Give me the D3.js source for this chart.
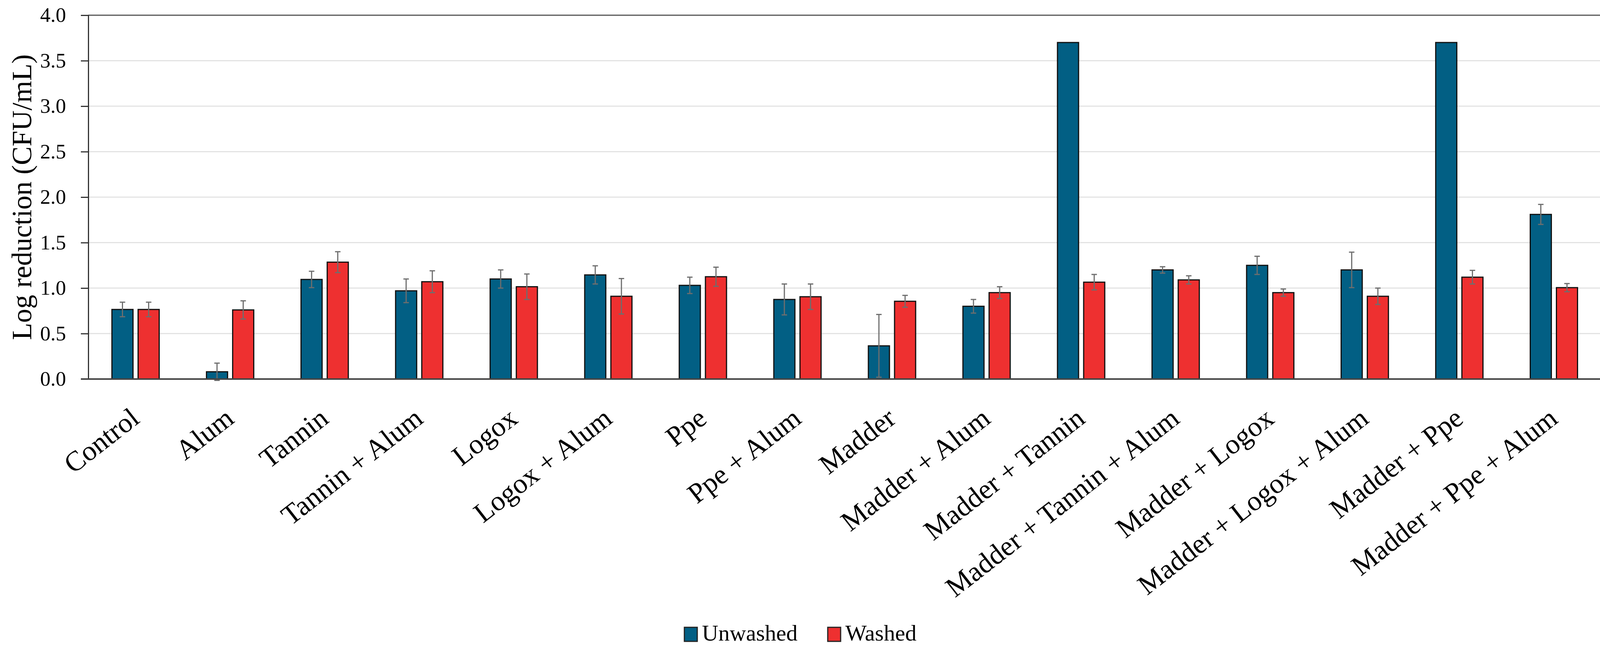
<!DOCTYPE html>
<html>
<head>
<meta charset="utf-8">
<script src="https://cdnjs.cloudflare.com/ajax/libs/d3/7.8.5/d3.min.js"></script>
<style>
  body { margin: 0; background: #fff; }
  text { font-family: "Liberation Serif", "Times New Roman", serif; fill: #000; }
</style>
</head>
<body>
<div id="box"></div>
<script>
var w = 4120,
    h = 1660;

var categories = ["Control", "Alum", "Tannin", "Tannin + Alum", "Logox", "Logox + Alum",
                  "Ppe", "Ppe + Alum", "Madder", "Madder + Alum", "Madder + Tannin",
                  "Madder + Tannin + Alum", "Madder + Logox", "Madder + Logox + Alum",
                  "Madder + Ppe", "Madder + Ppe + Alum"];
var series = ["Unwashed", "Washed"];
var unwashed    = [0.765, 0.08, 1.095, 0.97, 1.10, 1.145, 1.03, 0.875, 0.365, 0.80, 3.70, 1.20, 1.25, 1.20, 3.70, 1.81];
var unwashedErr = [0.08, 0.095, 0.09, 0.13, 0.10, 0.10, 0.09, 0.17, 0.345, 0.075, 0, 0.035, 0.10, 0.195, 0, 0.11];
var washed      = [0.765, 0.76, 1.285, 1.07, 1.015, 0.91, 1.125, 0.905, 0.855, 0.95, 1.065, 1.09, 0.95, 0.91, 1.12, 1.005];
var washedErr   = [0.08, 0.10, 0.115, 0.12, 0.14, 0.195, 0.105, 0.14, 0.065, 0.065, 0.085, 0.045, 0.04, 0.09, 0.075, 0.045];
var yTicks = [0, 0.5, 1, 1.5, 2, 2.5, 3, 3.5, 4];
var colors = ["#025F84", "#EE3030"];

var pLeft = 226, pRight = 4099, pTop = 39, pBottom = 971;

var svg = d3.select("#box")
            .append("svg")
            .attr("width", w)
            .attr("height", h);

var x0 = d3.scaleBand()
           .domain(categories)
           .range([pLeft, pRight])
           .paddingInner(0.5)
           .paddingOuter(0.25);

var x1 = d3.scaleBand()
           .domain(series)
           .range([0, x0.bandwidth()])
           .paddingInner(0.194);

var y = d3.scaleLinear()
          .domain([0, 4])
          .range([pBottom, pTop]);

// gridlines
svg.selectAll("line.grid")
   .data(yTicks.slice(1, -1))
   .enter()
   .append("line")
   .attr("class", "grid")
   .attr("x1", pLeft)
   .attr("x2", pRight)
   .attr("y1", function(d) { return y(d); })
   .attr("y2", function(d) { return y(d); })
   .attr("stroke", "#e3e3e3")
   .attr("stroke-width", 3);

// frame top + right
svg.append("path")
   .attr("d", "M" + pLeft + "," + pTop + "H" + pRight + "V" + pBottom)
   .attr("fill", "none")
   .attr("stroke", "#555")
   .attr("stroke-width", 3);

var rows = categories.map(function(c, i) {
  return [
    { cat: c, s: "Unwashed", v: unwashed[i], e: unwashedErr[i] },
    { cat: c, s: "Washed", v: washed[i], e: washedErr[i] }
  ];
});
var flat = [].concat.apply([], rows);

svg.selectAll("rect.bar")
   .data(flat)
   .enter()
   .append("rect")
   .attr("class", "bar")
   .attr("x", function(d) { return x0(d.cat) + x1(d.s); })
   .attr("y", function(d) { return y(d.v); })
   .attr("width", x1.bandwidth())
   .attr("height", function(d) { return y(0) - y(d.v); })
   .attr("fill", function(d) { return colors[series.indexOf(d.s)]; })
   .attr("stroke", "#111")
   .attr("stroke-width", 3);

// error bars
var errs = svg.selectAll("g.err")
   .data(flat.filter(function(d) { return d.e > 0; }))
   .enter()
   .append("g")
   .attr("class", "err")
   .attr("stroke", "#6e6e6e")
   .attr("stroke-width", 3);

errs.append("line")
    .attr("x1", function(d) { return x0(d.cat) + x1(d.s) + x1.bandwidth() / 2; })
    .attr("x2", function(d) { return x0(d.cat) + x1(d.s) + x1.bandwidth() / 2; })
    .attr("y1", function(d) { return y(d.v - d.e); })
    .attr("y2", function(d) { return y(d.v + d.e); });

[1, -1].forEach(function(sign) {
  errs.append("line")
      .attr("x1", function(d) { return x0(d.cat) + x1(d.s) + x1.bandwidth() / 2 - 7; })
      .attr("x2", function(d) { return x0(d.cat) + x1(d.s) + x1.bandwidth() / 2 + 7; })
      .attr("y1", function(d) { return y(d.v + sign * d.e); })
      .attr("y2", function(d) { return y(d.v + sign * d.e); });
});

// y axis
var yAxis = d3.axisLeft(y)
              .tickValues(yTicks)
              .tickFormat(d3.format(".1f"))
              .tickSize(19)
              .tickPadding(38);

var gy = svg.append("g")
            .attr("transform", "translate(" + pLeft + ",0)")
            .call(yAxis);
gy.select(".domain").attr("stroke", "#333").attr("stroke-width", 3);
gy.selectAll(".tick line").attr("stroke", "#333").attr("stroke-width", 3);
gy.selectAll(".tick text")
  .attr("font-family", "Liberation Serif")
  .attr("font-size", "53px")
  .attr("fill", "#000");

// x axis line
svg.append("line")
   .attr("x1", pLeft - 19)
   .attr("x2", pRight)
   .attr("y1", pBottom)
   .attr("y2", pBottom)
   .attr("stroke", "#444")
   .attr("stroke-width", 4);

// x labels, rotated
svg.selectAll("text.xlab")
   .data(categories)
   .enter()
   .append("text")
   .attr("class", "xlab")
   .attr("text-anchor", "end")
   .attr("font-size", "72px")
   .attr("transform", function(d) {
     return "translate(" + (x0(d) + x0.bandwidth() / 2 + 14) + "," + 1080 + ") rotate(-38)";
   })
   .text(function(d) { return d; });

// y title
svg.append("text")
   .attr("text-anchor", "middle")
   .attr("font-size", "72px")
   .attr("transform", "translate(80," + ((pTop + pBottom) / 2) + ") rotate(-90)")
   .text("Log reduction (CFU/mL)");

// legend
var legX = [1752, 2119];
var leg = svg.selectAll("g.leg")
   .data(series)
   .enter()
   .append("g")
   .attr("class", "leg")
   .attr("transform", function(d, i) { return "translate(" + legX[i] + ",1607)"; });

leg.append("rect")
   .attr("width", 33)
   .attr("height", 36)
   .attr("fill", function(d, i) { return colors[i]; })
   .attr("stroke", "#222")
   .attr("stroke-width", 3);

leg.append("text")
   .attr("x", 45)
   .attr("y", 34)
   .attr("font-size", "58px")
   .text(function(d) { return d; });
</script>
</body>
</html>
